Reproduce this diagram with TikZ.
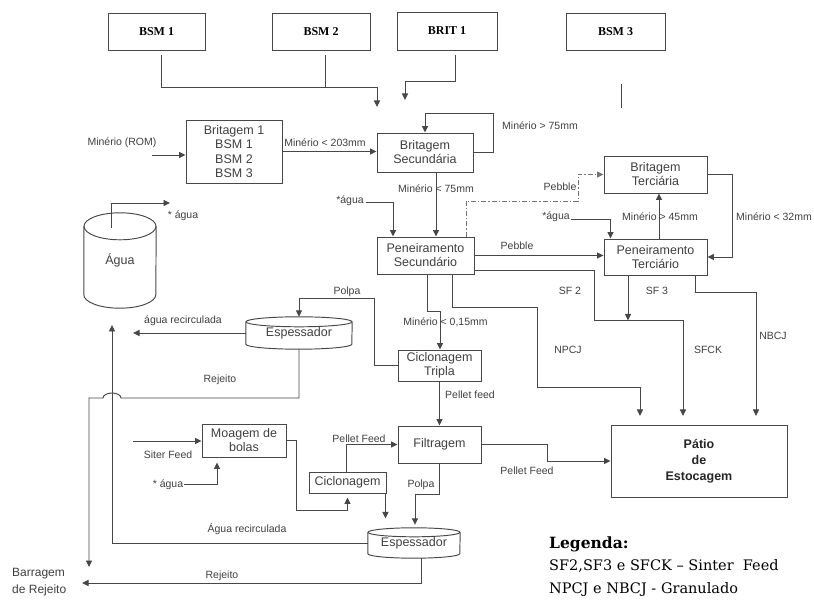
\documentclass[tikz,border=0pt]{standalone}
\usepackage{fontspec}
\setmainfont{Liberation Sans}
\newfontfamily\boxserif{Liberation Serif}
\newfontfamily\legfont{DejaVu Serif}
\usetikzlibrary{arrows.meta,calc}

% vertical drum: full top ellipse, straight sides, lower half ellipse
\newcommand\drawdrum[3]{%
  \draw[wire] ([yshift=-#3]#1.north) ellipse [x radius=#2, y radius=#3];
  \draw[wire] ([yshift=-#3]#1.north west) -- ([yshift=#3]#1.south west)
     arc[start angle=180, end angle=360, x radius=#2, y radius=#3]
     -- ([yshift=-#3]#1.north east);
}

\begin{document}
\begin{tikzpicture}[x=1pt,y=-1pt,
  wire/.style={draw=black!72, line width=0.95pt},
  arr/.style={wire, -{Triangle[length=6.5pt,width=6pt]}},
  dotdash/.style={arr, draw=black!55, dash pattern=on 5pt off 2pt on 1.2pt off 2pt},
  procbox/.style={draw=black!72, line width=0.95pt, rectangle, inner sep=0pt,
    align=center, text=black!75, font=\fontsize{12.5}{14}\selectfont},
  topbox/.style={procbox, text=black, font=\boxserif\bfseries\fontsize{12}{14}\selectfont},
  drumtext/.style={rectangle, inner sep=0pt, align=center, text=black!75,
    font=\fontsize{12.5}{14}\selectfont},
  lbl/.style={inner sep=0pt, text=black!75, font=\fontsize{10.5}{12}\selectfont},
  legtext/.style={anchor=west, inner sep=0pt, font=\legfont\fontsize{14.5}{16}\selectfont}
]
\fill[white] (0,0) rectangle (814,601);
\useasboundingbox (0,0) rectangle (814,601);

% ---------- top crushers ----------
\node[topbox, minimum width=97pt, minimum height=37pt] (bsmA) at (156.5,31.5) {BSM 1};
\node[topbox, minimum width=98pt, minimum height=37pt] (bsmB) at (321,31.5) {BSM 2};
\node[topbox, minimum width=100pt, minimum height=38pt] (brit) at (447,31) {BRIT 1};
\node[topbox, minimum width=99pt, minimum height=37pt] (bsmC) at (615.5,31.5) {BSM 3};

% ---------- process boxes ----------
\node[procbox, minimum width=96pt, minimum height=63pt, font=\fontsize{12.5}{14.5}\selectfont]
  (brA) at (234,151.5) {Britagem 1\\BSM 1\\BSM 2\\BSM 3};
\node[procbox, minimum width=96pt, minimum height=39pt] (brB) at (425,152.5) {Britagem\\Secundária};
\node[procbox, minimum width=97pt, minimum height=37pt] (penA) at (425.5,255.5) {Peneiramento\\Secundário};
\node[procbox, minimum width=103pt, minimum height=37pt] (brC) at (655.5,174.5) {Britagem\\Terciária};
\node[procbox, minimum width=103pt, minimum height=36pt] (penB) at (655.5,257) {Peneiramento\\Terciário};
\node[procbox, minimum width=83pt, minimum height=31pt] (cicA) at (439.5,365.5) {Ciclonagem\\Tripla};
\node[procbox, minimum width=83pt, minimum height=37pt] (filt) at (439.5,444.5) {Filtragem};
\node[procbox, minimum width=84pt, minimum height=33pt] (moag) at (244,440.5) {Moagem de\\bolas};
\node[procbox, minimum width=77pt, minimum height=21pt] (cicB) at (347.5,482.5) {Ciclonagem};
\node[procbox, minimum width=176pt, minimum height=72pt, text=black!85,
  font=\bfseries\fontsize{12.5}{16}\selectfont] (patio) at (699,461) {Pátio\\de\\Estocagem};

% ---------- drums ----------
\node[drumtext, minimum width=72pt, minimum height=95pt] (tank) at (120,260.5) {Água};
\node[drumtext, minimum width=106pt, minimum height=32pt] (espA) at (299,333) {\raisebox{-2.5pt}{Espessador}};
\node[drumtext, minimum width=92pt, minimum height=30pt] (espB) at (414,543) {\raisebox{-2.5pt}{Espessador}};
\drawdrum{tank}{36pt}{13.5pt}
\drawdrum{espA}{53pt}{5pt}
\drawdrum{espB}{46pt}{4.5pt}

% ---------- free ends ----------
\coordinate (joinA) at (377,87);
\coordinate (bendB) at (405,81);
\coordinate (romIn) at (152,155);
\coordinate (aguaA) at (366,202);
\coordinate (aguaB) at (571,219);
\coordinate (pebA) at (578,201);
\coordinate (sfA) at (594,320);
\coordinate (endA) at (640,416);
\coordinate (endB) at (683,416);
\coordinate (endC) at (756,416);
\coordinate (npA) at (537,307);
\coordinate (npB) at (640,387);
\coordinate (nbA) at (756,292);
\coordinate (mnA) at (440,311);
\coordinate (polA) at (299,298);
\coordinate (wOut) at (170,203);
\coordinate (recEnd) at (133,333);
\coordinate (hopR) at (121,398);
\coordinate (rejCorner) at (89,398);
\coordinate (rejEnd) at (89,567);
\coordinate (recTip) at (112,325);
\coordinate (rejB) at (82,583);
\coordinate (sFeed) at (133,441);
\coordinate (aguaC) at (184,484);

% ---------- top connectors ----------
\draw[wire] ($(bsmA.south)+(5,5)$) |- (joinA);
\draw[wire] ($(bsmB.south)+(4,5)$) -- ($(bsmB.south)+(4,37)$);
\draw[arr] (joinA) -- ++(0,20);
\draw[arr] ($(brit.south)+(8,5)$) |- (bendB) -- ++(0,19);
\draw[wire] ($(bsmC.south)+(6,34)$) -- ($(bsmC.south)+(6,58)$);

% ---------- crushing and screening ----------
\draw[arr] (romIn) -- (romIn -| brA.west);
\draw[arr] (brA.east) -- (brA.east -| brB.west);
\draw[arr] (brB.east) -- ++(20,0) -- ++(0,-39) -| (brB.north);
\draw[arr] ($(brB.south)+(11,0)$) -- ($(penA.north)+(10.5,0)$);
\draw[arr] (aguaA) -| ($(penA.north)+(-32.5,0)$);
\draw[dotdash] ($(penA.north)+(40.5,0)$) |- (pebA) |- (brC.west);
\draw[arr] (penA.east) -- (penA.east -| penB.west);
\draw[arr] ($(penB.north)+(3.5,0)$) -- ($(brC.south)+(3.5,0)$);
\draw[arr] (brC.east) -- ++(25,0) |- (penB.east);
\draw[arr] (aguaB) -| ($(penB.north)+(-45,0)$);

% ---------- products to stockyard ----------
\draw[arr] ($(penA.east)+(0,14.5)$) -| (sfA) -| (endB);
\draw[arr] ($(penB.south)+(-27.5,0)$) -- ($(penB.south)+(-27.5,45)$);
\draw[arr] ($(penB.south)+(39.5,0)$) |- (nbA) -- (endC);
\draw[arr] ($(penA.south)+(27,0)$) |- (npA) |- (npB) -- (endA);

% ---------- fines circuit ----------
\draw[arr] ($(penA.south)+(1.5,0)$) |- (mnA) -- (mnA |- cicA.north);
\draw[arr] (cicA.south) -- (filt.north);
\draw[arr] (filt.east) -- ++(66,0) |- (patio.west);
\draw[arr] (cicA.west) -- ++(-23,0) |- (polA) -- (espA.north);
\draw[arr] (espA.west) -- (recEnd);
\draw[arr] (espA.south) |- (hopR)
  arc[start angle=0, end angle=180, x radius=9pt, y radius=5pt] -- (rejCorner) -- (rejEnd);
\draw[arr] ($(tank.north)+(-9,15)$) |- (wOut);

% ---------- pellet feed circuit ----------
\draw[arr] (sFeed) -- (sFeed -| moag.west);
\draw[arr] (aguaC) -| ($(moag.south)+(-27,5)$);
\draw[arr] (moag.east) -- ++(10,0) |- ($(cicB.south)+(0,17)$) -- ($(cicB.south)+(0,4)$);
\draw[arr] ($(cicB.north)+(-1,0)$) |- (filt.west);
\draw[arr] ($(cicB.south east)+(-1,0)$) -- ($(cicB.south east)+(-1,25)$);
\draw[arr] (filt.south) |- ($(espB.north)+(1,-33)$) -- ($(espB.north)+(1,-3)$);
\draw[arr] (espB.west) -| (recTip);
\draw[arr] ($(espB.south)+(7,0)$) |- (rejB);

% ---------- labels ----------
\node[lbl] (lRom) at (122,143) {Minério (ROM)};
\node[lbl] (l203) at (325,143) {Minério < 203mm};
\node[lbl] (l75a) at (540,126) {Minério > 75mm};
\node[lbl] (l75b) at (436,189) {Minério < 75mm};
\node[lbl] (lAgA) at (350,201) {*água};
\node[lbl] (lPebA) at (560,187) {Pebble};
\node[lbl] (lPebB) at (517,246) {Pebble};
\node[lbl] (lAgB) at (556,217) {*água};
\node[lbl] (l45) at (660,217) {Minério > 45mm};
\node[lbl] (l32) at (774,217) {Minério < 32mm};
\node[lbl] (lSF2) at (570,291) {SF 2};
\node[lbl] (lSF3) at (657,291) {SF 3};
\node[lbl] (lNPCJ) at (568,350) {NPCJ};
\node[lbl] (lSFCK) at (708,350) {SFCK};
\node[lbl] (lNBCJ) at (773,336) {NBCJ};
\node[lbl] (lAgC) at (183,216) {* água};
\node[lbl] (lPolA) at (347,292) {Polpa};
\node[lbl] (lRec) at (183,321) {água recirculada};
\node[lbl] (l015) at (445.5,322) {Minério < 0,15mm};
\node[lbl] (lRejA) at (220,380) {Rejeito};
\node[lbl] (lPF) at (470,395) {Pellet feed};
\node[lbl] (lSiter) at (168,455) {Siter Feed};
\node[lbl] (lAgD) at (168,485) {* água};
\node[lbl] (lPFb) at (359,439) {Pellet Feed};
\node[lbl] (lPFc) at (527,471) {Pellet Feed};
\node[lbl] (lPolB) at (421,485) {Polpa};
\node[lbl] (lRecB) at (247,529) {Água recirculada};
\node[lbl] (lRejB) at (222,576) {Rejeito};
\node[lbl, anchor=west, align=left, font=\fontsize{12}{17}\selectfont] (barr) at (12,582.5) {Barragem\\de Rejeito};

% ---------- legend ----------
\node[legtext, font=\legfont\bfseries\fontsize{15.5}{17}\selectfont] (legT) at (549,544) {Legenda:};
\node[legtext] (legA) at (549,566) {SF2,SF3 e SFCK – Sinter\ \ Feed};
\node[legtext] (legB) at (549,589) {NPCJ e NBCJ - Granulado};
\end{tikzpicture}
\end{document}
